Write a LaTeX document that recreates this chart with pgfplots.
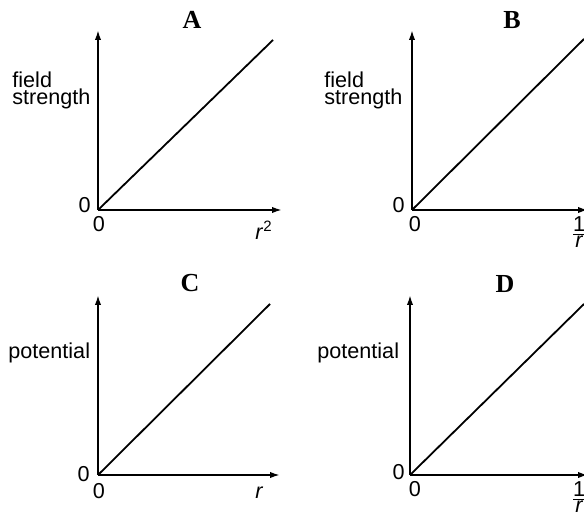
\documentclass[border=0pt]{standalone}
\usepackage{pgfplots}
\pgfplotsset{compat=1.18}
\usetikzlibrary{arrows.meta}
\usepackage{fontspec}
\setmainfont{Liberation Sans}
\newfontfamily\titlefont{Liberation Serif}
\pgfplotsset{
  panel/.style={
    anchor=south west, scale only axis,
    ymin=0, ymax=180, xmin=0,
    axis lines=left, ticks=none,
    axis line style={line width=0.9pt, -{Latex[length=5pt,width=3.2pt]}},
  }
}
\begin{document}
\begin{tikzpicture}
\useasboundingbox (0,0) rectangle (292pt,257pt);
% Panel A
\begin{axis}[panel, at={(49pt,152pt)}, width=92pt, height=90pt, xmax=184]
\addplot[black, no marks, line width=0.9pt] coordinates {(0,0) (175,170)};
\end{axis}
% Panel B
\begin{axis}[panel, at={(206pt,152pt)}, width=88pt, height=90pt, xmax=176]
\addplot[black, no marks, line width=0.9pt] coordinates {(0,0) (172,171)};
\end{axis}
% Panel C
\begin{axis}[panel, at={(49pt,19.5pt)}, width=91pt, height=90pt, xmax=182]
\addplot[black, no marks, line width=0.9pt] coordinates {(0,0) (172,171)};
\end{axis}
% Panel D
\begin{axis}[panel, at={(205pt,19.5pt)}, width=89pt, height=90pt, xmax=178]
\addplot[black, no marks, line width=0.9pt] coordinates {(0,0) (174,171)};
\end{axis}
\begin{scope}[x=0.5pt, y=-0.5pt, yshift=257pt, every node/.style={inner sep=0pt, font=\fontsize{10.8}{12}\selectfont}]
% titles
\node[anchor=base, font=\titlefont\bfseries\fontsize{13}{14}\selectfont] at (192,29) {A};
\node[anchor=base, font=\titlefont\bfseries\fontsize{13}{14}\selectfont] at (512,29) {B};
\node[anchor=base, font=\titlefont\bfseries\fontsize{13}{14}\selectfont] at (190,292) {C};
\node[anchor=base, font=\titlefont\bfseries\fontsize{13}{14}\selectfont] at (505,293) {D};
% y labels
\node[anchor=north west, align=left, font=\fontsize{10.8}{8.5}\selectfont] at (12,71) {field\\strength};
\node[anchor=north west, align=left, font=\fontsize{10.8}{8.5}\selectfont] at (324,71) {field\\strength};
\node[anchor=base west] at (8,359) {potential};
\node[anchor=base west] at (317,359) {potential};
% zeros
\node[anchor=base east] at (91,213) {0};
\node[anchor=base east] at (405,213) {0};
\node[anchor=base east] at (90,482) {0};
\node[anchor=base east] at (405,480) {0};
\node[anchor=base] at (99,232) {0};
\node[anchor=base] at (415,232) {0};
\node[anchor=base] at (99,499) {0};
\node[anchor=base] at (415,497) {0};
% x labels
\node[anchor=base west] at (255,240) {\textit{r}\raisebox{4pt}{\fontsize{7.5}{8}\selectfont 2}};
\node[anchor=base west] at (255,499) {\textit{r}};
\node[anchor=center] at (579,232) {$\frac{\mbox{1}}{\mbox{\itshape r}}$};
\node[anchor=center] at (579,497) {$\frac{\mbox{1}}{\mbox{\itshape r}}$};
\end{scope}
\end{tikzpicture}
\end{document}
